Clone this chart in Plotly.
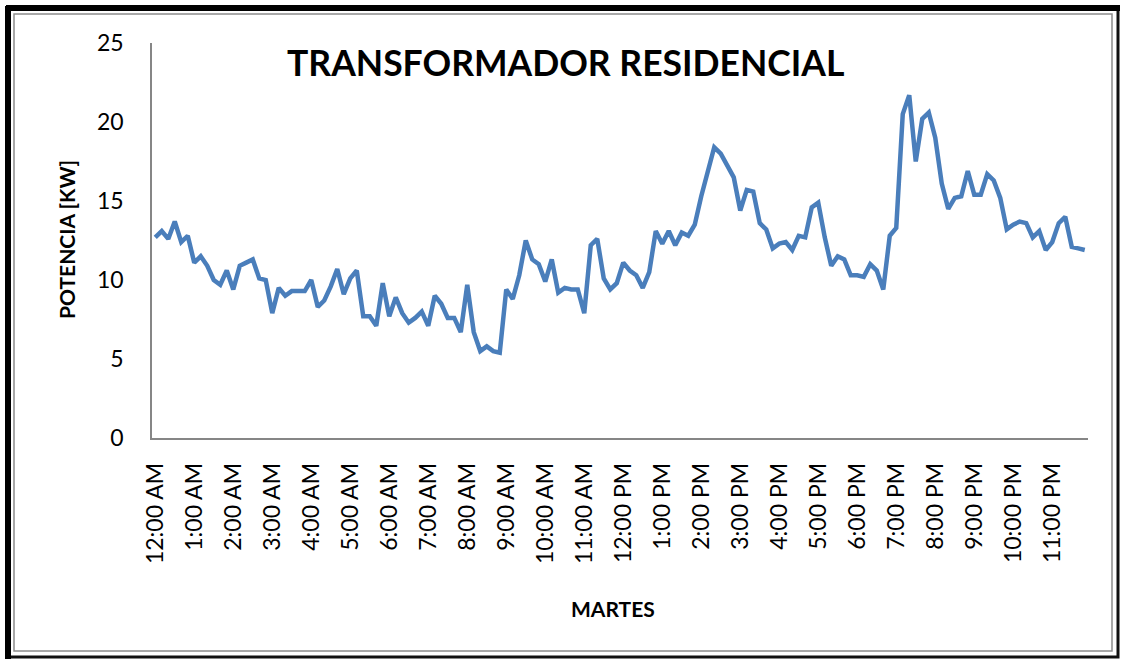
import plotly.graph_objects as go

# potencia cada 10 minutos, martes
potencia = [
    12.7, 13.1, 12.6, 13.7, 12.4, 12.8, 11.1, 11.5, 10.9, 10.0, 9.7, 10.6,
    9.4, 10.9, 11.1, 11.3, 10.1, 10.0, 7.9, 9.5, 9.0, 9.3, 9.3, 9.3,
    10.0, 8.3, 8.7, 9.6, 10.7, 9.1, 10.1, 10.6, 7.7, 7.7, 7.1, 9.8,
    7.7, 8.9, 7.9, 7.3, 7.6, 8.0, 7.1, 9.0, 8.5, 7.6, 7.6, 6.7,
    9.7, 6.7, 5.5, 5.8, 5.5, 5.4, 9.4, 8.8, 10.3, 12.5, 11.3, 11.0,
    9.9, 11.3, 9.2, 9.5, 9.4, 9.4, 7.9, 12.2, 12.6, 10.1, 9.4, 9.8,
    11.1, 10.6, 10.3, 9.5, 10.5, 13.1, 12.3, 13.1, 12.2, 13.0, 12.8, 13.5,
    15.3, 16.9, 18.4, 18.0, 17.3, 16.5, 14.4, 15.7, 15.6, 13.6, 13.2, 12.0,
    12.3, 12.4, 11.9, 12.8, 12.7, 14.6, 14.9, 12.7, 10.9, 11.5, 11.3, 10.3,
    10.3, 10.2, 11.0, 10.6, 9.4, 12.8, 13.3, 20.5, 21.7, 17.5, 20.2, 20.6,
    19.0, 16.1, 14.5, 15.2, 15.3, 16.9, 15.4, 15.4, 16.7, 16.3, 15.2, 13.2,
    13.5, 13.7, 13.6, 12.7, 13.1, 11.9, 12.4, 13.6, 14.0, 12.1, 12.0, 11.9,
]

horas = ["12", "1", "2", "3", "4", "5", "6", "7", "8", "9", "10", "11"]
minutos = ["00", "10", "20", "30", "40", "50"]
tiempos = [f"{h}:{m} {ap}" for ap in ["AM", "PM"] for h in horas for m in minutos]
etiquetas = tiempos[::6]

# plot area in pixels
L, R, T, B = 152, 1088, 43, 438


def px(x):
    return (x - L) / (R - L)


def py(y):
    return (B - y) / (B - T)


fig = go.Figure(go.Scatter(
    x=tiempos, y=potencia, mode="lines",
    line=dict(color="#4a7ebb", width=4.5),
))

fig.update_layout(
    width=1123, height=661,
    margin=dict(l=L, r=1123 - R, t=T, b=661 - B),
    paper_bgcolor="white", plot_bgcolor="white",
    showlegend=False,
    font=dict(family="Lato", color="black"),
)

fig.update_xaxes(
    type="category", range=[-0.5, len(tiempos) - 0.5],
    tickvals=etiquetas, ticktext=etiquetas, tickangle=-90,
    tickfont=dict(size=23), ticks="outside", ticklen=0,
    ticklabelstandoff=14,
    showline=True, linecolor="#868686", linewidth=1.5,
    showgrid=False, zeroline=False,
)
fig.update_yaxes(
    range=[0, 25], tickvals=[0, 5, 10, 15, 20, 25],
    tickfont=dict(size=23), ticks="outside", ticklen=0,
    ticklabelstandoff=22,
    showline=True, linecolor="#868686", linewidth=1.5,
    showgrid=False, zeroline=False,
)

fig.add_annotation(text="<b>TRANSFORMADOR RESIDENCIAL</b>", xref="paper", yref="paper",
                   x=px(565), y=py(62), xanchor="center", yanchor="middle",
                   showarrow=False, font=dict(size=35.5))
fig.add_annotation(text="<b>POTENCIA [KW]</b>", xref="paper", yref="paper",
                   x=px(66), y=py(240), xanchor="center", yanchor="middle",
                   textangle=-90, showarrow=False, font=dict(size=21))
fig.add_annotation(text="<b>MARTES</b>", xref="paper", yref="paper",
                   x=px(613), y=py(608), xanchor="center", yanchor="middle",
                   showarrow=False, font=dict(size=21))

# marco: grueso negro arriba/izquierda, más fino abajo/derecha
fig.add_shape(type="rect", xref="paper", yref="paper",
              x0=px(8), x1=px(1118), y0=py(8), y1=py(657),
              line=dict(color="#111111", width=3))
fig.add_shape(type="line", xref="paper", yref="paper",
              x0=px(8), x1=px(8), y0=py(6), y1=py(659),
              line=dict(color="black", width=6))
fig.add_shape(type="line", xref="paper", yref="paper",
              x0=px(6), x1=px(1120), y0=py(8), y1=py(8),
              line=dict(color="black", width=6))
fig.add_shape(type="rect", xref="paper", yref="paper",
              x0=px(14), x1=px(1112), y0=py(14), y1=py(651),
              line=dict(color="#8c8c8c", width=1.5))

fig.write_html("out.html", config={"displayModeBar": False},
               post_script="document.body.style.margin='0';")
